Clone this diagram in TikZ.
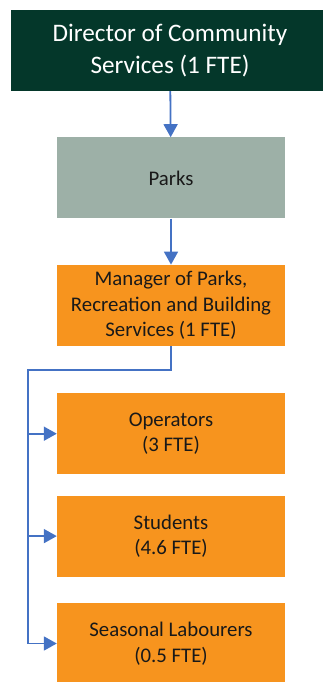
\documentclass[tikz,border=0pt]{standalone}
\usepackage{fontspec}
\setmainfont{Carlito}
\usepackage{xcolor}
\usepackage{tikz}
\usetikzlibrary{positioning,arrows.meta}

\definecolor{darkgreen}{HTML}{04372A}
\definecolor{sage}{HTML}{9DB0A7}
\definecolor{parksorange}{HTML}{F7941E}
\definecolor{linkblue}{HTML}{4472C4}

\begin{document}
\begin{tikzpicture}[x=1pt,y=1pt]

\tikzstyle{head}=[fill=darkgreen, text=white, minimum width=318pt, minimum height=81pt, inner sep=0pt, align=center, font=\fontsize{25.2}{32}\selectfont]
\tikzstyle{unit}=[minimum width=228pt, minimum height=81pt, inner sep=0pt, align=center, text=black!90, font=\fontsize{20.8}{25.5}\selectfont]
\tikzstyle{link}=[draw=linkblue, line width=1.8pt, -{Triangle[length=13pt,width=14pt]}]

\useasboundingbox (0,0) rectangle (323,-682);
\clip (0,0) rectangle (323,-682);

% nodes %
\node[head] (director) at (170,-50.5) {Director of Community\\Services (1 FTE)};
\node[unit, fill=sage, below=46pt of director, xshift=1pt] (parks) {Parks};
\node[unit, fill=parksorange, below=46pt of parks] (manager) {Manager of Parks,\\Recreation and Building\\Services (1 FTE)};
\node[unit, fill=parksorange, below=47pt of manager] (operators) {Operators\\(3 FTE)};
\node[unit, fill=parksorange, below=21pt of operators] (students) {Students\\(4.6 FTE)};
\node[unit, fill=parksorange, below=26pt of students] (seasonal) {Seasonal Labourers\\(0.5 FTE)};

% edges %
\draw[link] (director) -- (parks);
\draw[link] (parks) -- (manager);
\draw[link] (manager.south) -- ++(0,-24pt) -| ([xshift=-29pt]seasonal.west) -- (seasonal.west);
\draw[link] ([xshift=-29pt]operators.west) -- (operators.west);
\draw[link] ([xshift=-29pt]students.west) -- (students.west);

\end{tikzpicture}
\end{document}
